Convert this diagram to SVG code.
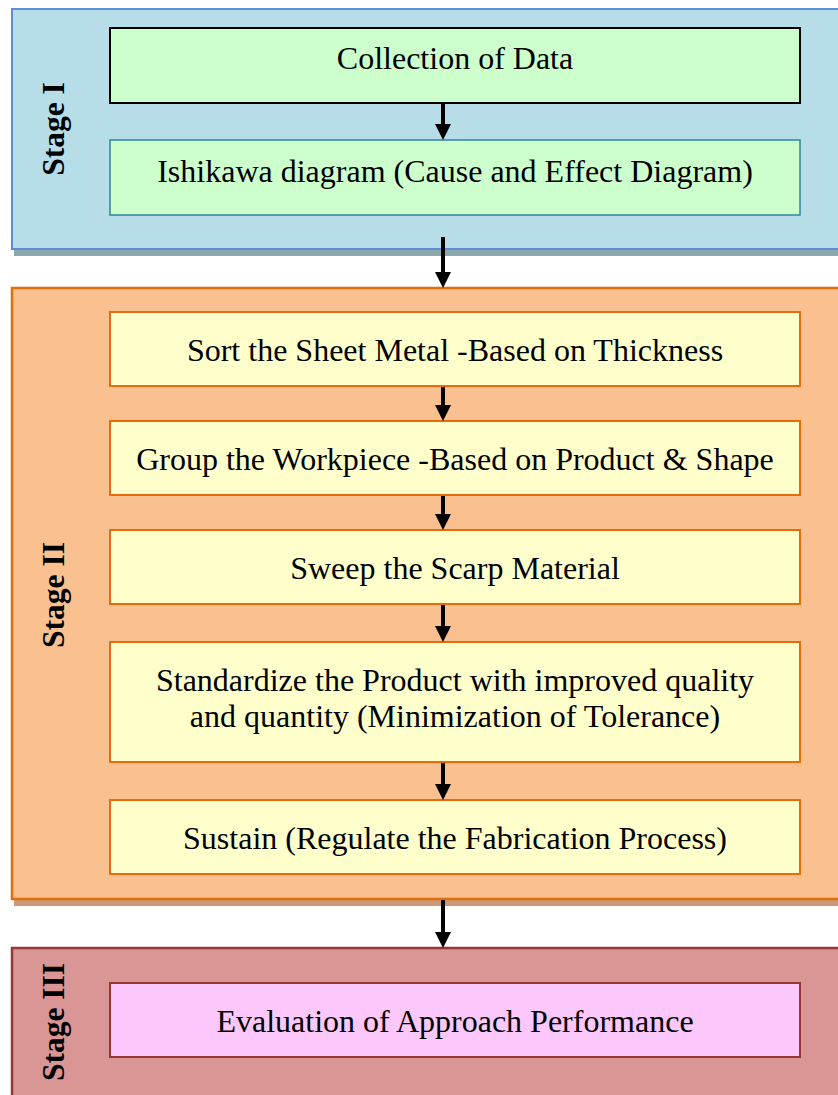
<svg xmlns="http://www.w3.org/2000/svg" width="838" height="1095" viewBox="0 0 838 1095">
<defs>
<style>
.t{font-family:"Liberation Serif","Times New Roman",serif;font-size:32px;fill:#000;text-anchor:middle}
.lbl{font-family:"Liberation Serif","Times New Roman",serif;font-size:31.5px;font-weight:bold;fill:#000;text-anchor:middle}
.arr{stroke:#000;stroke-width:4;fill:none}
.head{fill:#000}
</style>
</defs>
<rect width="838" height="1095" fill="#fff"/>
<g id="stage1">
<rect x="14" y="12" width="840" height="244" fill="#8da8ad"/>
<rect x="12" y="9" width="840" height="240" fill="#b7dde8" stroke="#5b8ed6" stroke-width="2"/>
<text class="lbl" transform="translate(64,129) rotate(-90)">Stage I</text>
</g>
<g id="stage2">
<rect x="14" y="292" width="840" height="614" fill="#c99b78"/>
<rect x="12" y="288" width="840" height="611" fill="#fac090" stroke="#e46c0a" stroke-width="2.5"/>
<text class="lbl" transform="translate(64,595) rotate(-90)">Stage II</text>
</g>
<g id="stage3">
<rect x="12" y="948" width="840" height="160" fill="#d99694" stroke="#953735" stroke-width="2.5"/>
<text class="lbl" transform="translate(64,1022) rotate(-90)">Stage III</text>
</g>
<g id="n1">
<rect x="110" y="28" width="690" height="75" fill="#ccffcc" stroke="#000" stroke-width="2"/>
<text class="t" x="455" y="69">Collection of Data</text>
</g>
<g id="n2">
<rect x="110" y="140" width="690" height="75" fill="#ccffcc" stroke="#31849b" stroke-width="1.5"/>
<text class="t" x="455" y="182">Ishikawa diagram (Cause and Effect Diagram)</text>
</g>
<g id="n3">
<rect x="110" y="312" width="690" height="74" fill="#ffffcc" stroke="#e46c0a" stroke-width="2"/>
<text class="t" x="455" y="361">Sort the Sheet Metal -Based on Thickness</text>
</g>
<g id="n4">
<rect x="110" y="421" width="690" height="74" fill="#ffffcc" stroke="#e46c0a" stroke-width="2"/>
<text class="t" x="455" y="470">Group the Workpiece -Based on Product &amp; Shape</text>
</g>
<g id="n5">
<rect x="110" y="530" width="690" height="74" fill="#ffffcc" stroke="#e46c0a" stroke-width="2"/>
<text class="t" x="455" y="579">Sweep the Scarp Material</text>
</g>
<g id="n6">
<rect x="110" y="642" width="690" height="120" fill="#ffffcc" stroke="#e46c0a" stroke-width="2"/>
<text class="t" x="455" y="691">Standardize the Product with improved quality</text>
<text class="t" x="455" y="727">and quantity (Minimization of Tolerance)</text>
</g>
<g id="n7">
<rect x="110" y="800" width="690" height="74" fill="#ffffcc" stroke="#e46c0a" stroke-width="2"/>
<text class="t" x="455" y="849">Sustain (Regulate the Fabrication Process)</text>
</g>
<g id="n8">
<rect x="110" y="983" width="690" height="74" fill="#fcc8fc" stroke="#953735" stroke-width="2"/>
<text class="t" x="455" y="1032">Evaluation of Approach Performance</text>
</g>
<g id="connectors">
<line class="arr" x1="443" y1="104" x2="443" y2="126"/>
<polygon class="head" points="435,124 451,124 443,140"/>
<line class="arr" x1="443" y1="237" x2="443" y2="274"/>
<polygon class="head" points="435,272 451,272 443,288"/>
<line class="arr" x1="443" y1="387" x2="443" y2="407"/>
<polygon class="head" points="435,405 451,405 443,421"/>
<line class="arr" x1="443" y1="496" x2="443" y2="516"/>
<polygon class="head" points="435,514 451,514 443,530"/>
<line class="arr" x1="443" y1="605" x2="443" y2="628"/>
<polygon class="head" points="435,626 451,626 443,642"/>
<line class="arr" x1="443" y1="763" x2="443" y2="786"/>
<polygon class="head" points="435,784 451,784 443,800"/>
<line class="arr" x1="443" y1="900" x2="443" y2="934"/>
<polygon class="head" points="435,932 451,932 443,948"/>
</g>
</svg>
